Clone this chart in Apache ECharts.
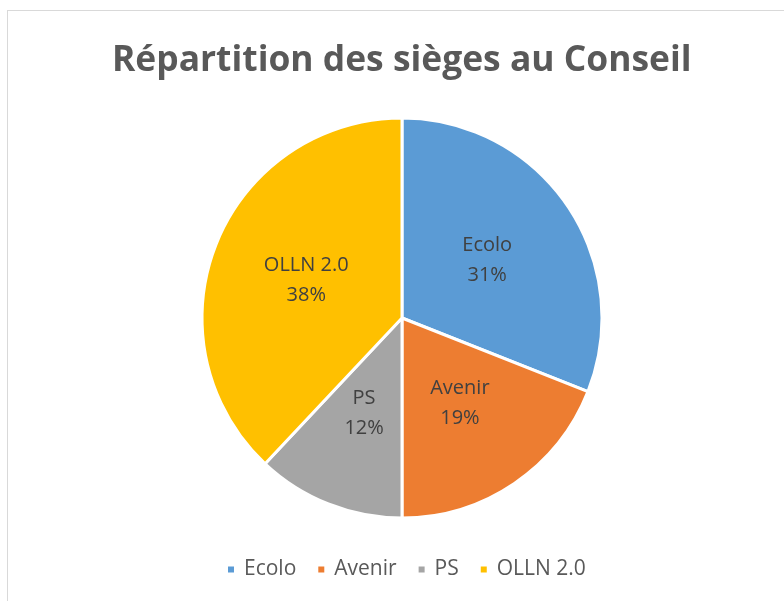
<!DOCTYPE html>
<html>
<head>
<meta charset="utf-8">
<script src="https://cdn.jsdelivr.net/npm/echarts@6/dist/echarts.min.js"></script>
<style>
  html, body { margin: 0; padding: 0; background: #fff; }
  #main { width: 784px; height: 601px; }
  #frame { position: absolute; left: 7px; top: 10px; width: 800px; height: 620px; border: 1px solid #d9d9d9; box-sizing: border-box; pointer-events: none; }
</style>
</head>
<body>
<div id="main"></div>
<div id="frame"></div>
<script>
var partis = ['Ecolo', 'Avenir', 'PS', 'OLLN 2.0'];
var parts = [31, 19, 12, 38];
var couleurs = ['#5b9bd5', '#ed7d31', '#a5a5a5', '#ffc000'];

var myChart = echarts.init(document.getElementById('main'));

var option = {
  animation: false,
  color: couleurs,
  title: {
    text: 'Répartition des sièges au Conseil',
    left: 107,
    top: 38,
    textStyle: {
      fontFamily: 'Open Sans',
      fontWeight: 'bold',
      fontSize: 35.4,
      color: '#595959'
    }
  },
  legend: {
    data: partis,
    bottom: 16,
    left: 221,
    icon: 'rect',
    itemWidth: 8,
    itemHeight: 8,
    itemGap: 20,
    textStyle: { fontFamily: 'Open Sans', fontSize: 21, color: '#595959', padding: [0, 0, 0, 4] }
  },
  series: [{
    type: 'pie',
    center: [402, 318],
    radius: [0, 200],
    startAngle: 90,
    clockwise: true,
    data: partis.map(function (p, i) { return { name: p, value: parts[i] }; }),
    itemStyle: { borderColor: '#fff', borderWidth: 3 },
    label: {
      position: 'inside',
      formatter: function (p) { return p.name + '\n' + Math.round(p.percent) + '%'; },
      fontFamily: 'Open Sans',
      fontSize: 20,
      lineHeight: 30,
      color: '#404040'
    },
    labelLine: { show: false },
    emphasis: { disabled: true }
  }]
};
myChart.setOption(option);
</script>
</body>
</html>
